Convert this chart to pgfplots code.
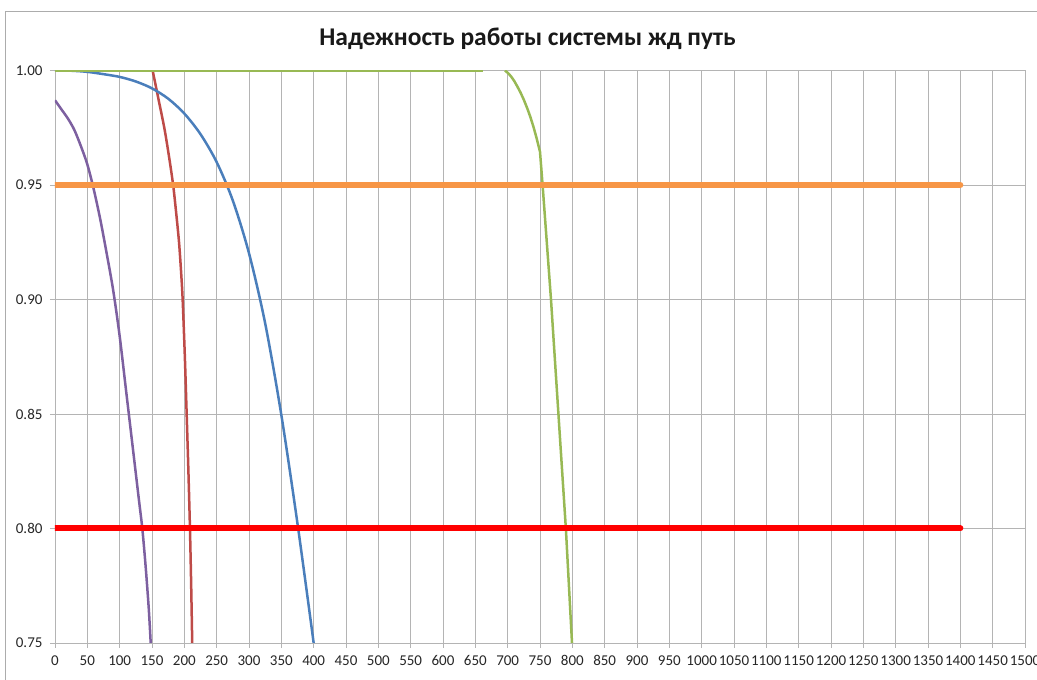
\documentclass[border=0pt]{standalone}
\usepackage{fontspec}
\setmainfont{Carlito}
\usepackage{pgfplots}
\pgfplotsset{compat=1.18}
\definecolor{xblue}{HTML}{4A7EBB}
\definecolor{xred}{HTML}{BE4B48}
\definecolor{xgreen}{HTML}{98B954}
\definecolor{xpurple}{HTML}{7D60A0}
\definecolor{xorange}{HTML}{F79646}
\definecolor{xline}{HTML}{FF0000}
\definecolor{gridc}{HTML}{B4B4B4}
\begin{document}
\begin{tikzpicture}[x=1pt,y=1pt]
\useasboundingbox (0,0) rectangle (1037,680);
\draw[gray!65, line width=1pt] (5,-2) -- (5,668) -- (1040,668);
\node[font=\bfseries\fontsize{25.5}{30}\selectfont, text=black!90] at (527.5,641) {Надежность работы системы жд путь};
\begin{axis}[
  at={(55pt,37pt)}, anchor=south west, scale only axis,
  width=970pt, height=572.5pt,
  xmin=0, xmax=1500, ymin=0.75, ymax=1.0,
  xtick={0,50,100,150,200,250,300,350,400,450,500,550,600,650,700,750,800,850,900,950,1000,1050,1100,1150,1200,1250,1300,1350,1400,1450,1500},
  ytick={0.75,0.80,0.85,0.90,0.95,1.00},
  grid=major, major grid style={gridc, line width=0.9pt},
  axis line style={gridc, line width=0.9pt},
  tick style={gridc, line width=0.9pt},
  tick align=outside, major tick length=5pt, tick pos=left,
  ticklabel style={font=\fontsize{15}{18}\selectfont, text=black!85},
  /pgf/number format/assume math mode=true,
  yticklabel style={xshift=-4pt, /pgf/number format/.cd, fixed, fixed zerofill, precision=2},
  xticklabel style={yshift=-4pt, /pgf/number format/.cd, set thousands separator={}},
  clip=true,
]
% purple
\addplot[xpurple, line width=2.5pt, smooth] coordinates {
(0,0.987) (10,0.983) (20,0.979) (30,0.974) (40,0.967) (50,0.959) (60,0.948)
(70,0.935) (80,0.920) (90,0.904) (100,0.884) (110,0.860) (120,0.836)
(130,0.812) (135,0.800) (140,0.784) (145,0.765) (148,0.75)};
% red curve
\addplot[xred, line width=2.5pt, smooth] coordinates {
(151,1.0) (160,0.9875) (169,0.975) (176,0.963) (182.7,0.95) (187.5,0.9375)
(191.8,0.925) (195,0.912) (197.4,0.90) (200.8,0.875) (203.6,0.85)
(206.3,0.825) (208.7,0.80) (210.6,0.775) (212.2,0.75)};
% blue
\addplot[xblue, line width=2.5pt, smooth] coordinates {
(0,1.0) (25,0.9999) (50,0.9994) (75,0.9984) (100,0.9972) (125,0.9952)
(150,0.9922) (175,0.9877) (200,0.9812) (225,0.9722) (250,0.9600)
(275,0.9432) (300,0.9202) (325,0.8896) (350,0.8496) (375,0.8021) (400,0.7500)};
% green flat
\addplot[xgreen, line width=2.5pt] coordinates {(0,1.0) (662,1.0)};
% green curve
\addplot[xgreen, line width=2.5pt, line join=round] coordinates {
(695.8,1.0) (700,0.9990) (705,0.9975) (710,0.9955) (715,0.9930) (720,0.9903)
(725,0.9872) (730,0.9837) (735,0.9798) (740,0.9753) (745,0.9702) (750,0.9645)
(754,0.95) (767,0.90) (778.5,0.85) (790,0.80) (799.5,0.75)};
% thresholds
\addplot[xorange, line width=6pt, line cap=round] coordinates {(0,0.95) (1400,0.95)};
\addplot[xline, line width=6pt, line cap=round] coordinates {(0,0.80) (1400,0.80)};
\end{axis}
\end{tikzpicture}
\end{document}
